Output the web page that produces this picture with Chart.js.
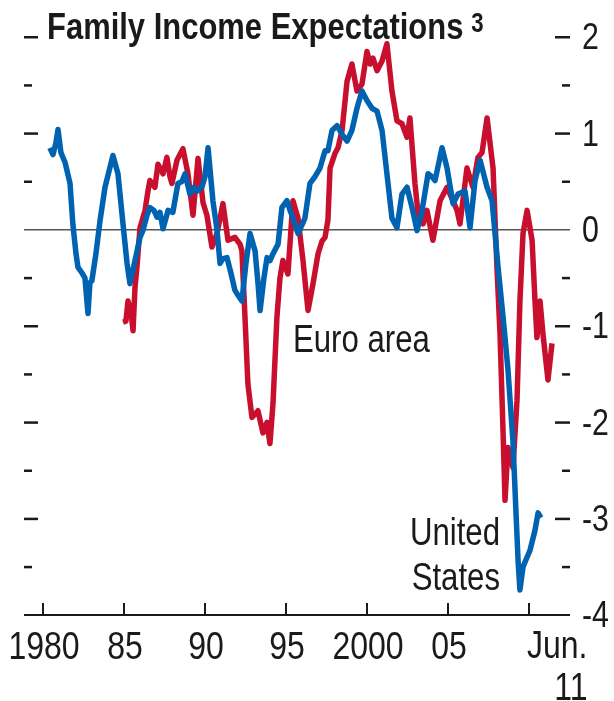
<!DOCTYPE html>
<html>
<head>
<meta charset="utf-8">
<script src="https://cdn.jsdelivr.net/npm/chart.js@4.4.1/dist/chart.umd.min.js"></script>
<style>
  html, body { margin: 0; padding: 0; background: #fff; }
  canvas { display: block; }
</style>
</head>
<body>
<canvas id="myChart" width="614" height="701"></canvas>
<script>
// Family income expectations, standardized index
const usYears = [
  1980.43, 1980.62, 1980.80, 1980.93, 1981.11, 1981.36, 1981.67, 1981.85, 1982.04, 1982.16,
  1982.41, 1982.59, 1982.78, 1982.90, 1983.02, 1983.27, 1983.52, 1983.83, 1984.14, 1984.32,
  1984.63, 1984.94, 1985.19, 1985.37, 1985.68, 1985.99, 1986.17, 1986.42, 1986.60, 1986.85,
  1987.04, 1987.22, 1987.41, 1987.72, 1988.02, 1988.33, 1988.58, 1988.77, 1989.07, 1989.32,
  1989.51, 1989.81, 1990.00, 1990.19, 1990.49, 1990.74, 1990.93, 1991.11, 1991.36, 1991.60,
  1991.85, 1992.04, 1992.28, 1992.53, 1992.78, 1993.09, 1993.27, 1993.40, 1993.64, 1993.83,
  1994.01, 1994.20, 1994.51, 1994.75, 1995.06, 1995.25, 1995.43, 1995.74, 1995.99, 1996.17,
  1996.48, 1996.79, 1997.10, 1997.41, 1997.59, 1997.84, 1998.15, 1998.46, 1998.77, 1999.07,
  1999.38, 1999.69, 2000.00, 2000.31, 2000.62, 2000.93, 2001.23, 2001.54, 2001.85, 2002.16,
  2002.47, 2002.78, 2003.09, 2003.40, 2003.77, 2004.01, 2004.20, 2004.63, 2004.94, 2005.31,
  2005.62, 2006.05, 2006.36, 2006.67, 2006.98, 2007.41, 2007.72, 2008.09, 2008.40, 2008.70,
  2009.01, 2009.20, 2009.33, 2009.44, 2009.63, 2009.88, 2010.06, 2010.37, 2010.56, 2010.74
];
const usValues = [
  0.85, 0.78, 0.90, 1.04, 0.80, 0.70, 0.48, 0.05, -0.25, -0.39,
  -0.45, -0.50, -0.87, -0.55, -0.53, -0.25, 0.09, 0.44, 0.65, 0.77,
  0.58, 0.06, -0.35, -0.56, -0.32, -0.08, -0.01, 0.15, 0.23, 0.20,
  0.13, 0.18, 0.01, 0.20, 0.18, 0.48, 0.50, 0.58, 0.37, 0.44,
  0.40, 0.44, 0.55, 0.85, 0.30, 0.00, -0.35, -0.30, -0.29, -0.45,
  -0.63, -0.68, -0.74, -0.35, -0.04, -0.22, -0.55, -0.84, -0.50, -0.29,
  -0.32, -0.25, -0.15, 0.23, 0.30, 0.20, 0.12, -0.04, 0.05, 0.12,
  0.48, 0.55, 0.64, 0.82, 0.82, 1.03, 1.08, 0.99, 0.92, 1.03,
  1.26, 1.44, 1.34, 1.26, 1.23, 1.03, 0.58, 0.12, 0.02, 0.37,
  0.44, 0.23, -0.01, 0.20, 0.58, 0.55, 0.51, 0.85, 0.64, 0.27,
  0.37, 0.40, 0.02, 0.51, 0.72, 0.44, 0.30, -0.39, -0.91, -1.45,
  -2.20, -2.95, -3.45, -3.74, -3.50, -3.40, -3.33, -3.12, -2.94, -2.99
];

const euroYears = [
  1984.94, 1985.12, 1985.25, 1985.43, 1985.56, 1985.68, 1985.80, 1985.99, 1986.30, 1986.48,
  1986.60, 1986.91, 1987.10, 1987.41, 1987.65, 1987.84, 1987.96, 1988.27, 1988.64, 1988.95,
  1989.26, 1989.57, 1989.88, 1990.12, 1990.43, 1990.74, 1991.11, 1991.42, 1991.85, 1992.16,
  1992.28, 1992.47, 1992.65, 1992.90, 1993.27, 1993.58, 1993.83, 1994.01, 1994.20, 1994.44,
  1994.63, 1994.81, 1995.12, 1995.43, 1995.74, 1996.05, 1996.36, 1996.67, 1996.98, 1997.22,
  1997.41, 1997.59, 1997.72, 1998.02, 1998.21, 1998.46, 1998.77, 1999.07, 1999.38, 1999.69,
  2000.00, 2000.19, 2000.37, 2000.62, 2000.93, 2001.23, 2001.54, 2001.85, 2002.16, 2002.47,
  2002.65, 2002.96, 2003.15, 2003.46, 2003.70, 2004.07, 2004.51, 2004.94, 2005.31, 2005.56,
  2005.74, 2006.17, 2006.54, 2006.85, 2007.10, 2007.41, 2007.78, 2008.02, 2008.21, 2008.40,
  2008.52, 2008.70, 2009.01, 2009.26, 2009.44, 2009.63, 2009.88, 2010.19, 2010.37, 2010.49,
  2010.68, 2010.86, 2011.17, 2011.42
];
const euroValues = [
  -0.96, -0.95, -0.74, -0.85, -1.05, -0.60, -0.39, 0.02, 0.20, 0.40,
  0.51, 0.44, 0.68, 0.58, 0.75, 0.55, 0.48, 0.72, 0.84, 0.58,
  0.15, 0.74, 0.28, 0.15, -0.18, -0.04, 0.27, -0.11, -0.08, -0.15,
  -0.22, -0.91, -1.60, -1.95, -1.88, -2.11, -2.00, -2.22, -1.80, -0.91,
  -0.50, -0.32, -0.46, 0.30, 0.12, -0.32, -0.84, -0.56, -0.25, -0.12,
  -0.08, 0.10, 0.64, 0.79, 0.85, 1.03, 1.54, 1.72, 1.44, 1.51,
  1.85, 1.72, 1.78, 1.65, 1.75, 1.93, 1.44, 1.13, 1.10, 0.96,
  1.16, 0.48, 0.17, 0.06, 0.20, -0.11, 0.30, 0.44, 0.30, 0.20,
  0.06, 0.64, 0.44, 0.75, 0.80, 1.16, 0.64, -0.39, -1.08, -2.11,
  -2.81, -2.26, -2.47, -1.77, -0.74, -0.04, 0.20, -0.11, -0.74, -1.12,
  -0.74, -1.08, -1.56, -1.18
];

const xTickYears = [1980, 1985, 1990, 1995, 2000, 2005, 2010];
const xTickLabels = ['1980', '85', '90', '95', '2000', '05', ['Jun.', '11']];
const yTicks = [2, 1, 0, -1, -2, -3, -4];
const yMinorTicks = [1.5, 0.5, -0.5, -1.5, -2.5, -3.5];

const RED = '#c8102e';
const BLUE = '#0063b1';
const INK = '#1a1a1a';
const SANS = '"Liberation Sans", Arial, sans-serif';
const SQUEEZE = 0.82; // condensed look, like Helvetica Condensed

function pairs(xs, ys) {
  return xs.map((x, i) => ({ x: x, y: ys[i] }));
}

// text squeezed horizontally
function text(ctx, str, x, y, align, sx) {
  ctx.save();
  ctx.translate(x, y);
  ctx.scale(sx, 1);
  ctx.textAlign = align;
  ctx.fillText(str, 0, 0);
  ctx.restore();
}

// zero line goes under the series
const zeroLine = {
  id: 'zeroLine',
  beforeDatasetsDraw(chart) {
    const { ctx, chartArea, scales } = chart;
    const y0 = scales.y.getPixelForValue(0);
    ctx.save();
    ctx.strokeStyle = '#555';
    ctx.lineWidth = 1.5;
    ctx.beginPath();
    ctx.moveTo(chartArea.left, y0);
    ctx.lineTo(chartArea.right, y0);
    ctx.stroke();
    ctx.restore();
  }
};

// axes, ticks, labels and annotations in the house style
const frame = {
  id: 'frame',
  afterDatasetsDraw(chart) {
    const { ctx, chartArea, scales } = chart;
    const L = chartArea.left, R = chartArea.right, B = chartArea.bottom;
    ctx.save();
    ctx.fillStyle = INK;
    ctx.strokeStyle = INK;

    // bottom axis
    ctx.lineWidth = 2;
    ctx.beginPath();
    ctx.moveTo(L, B);
    ctx.lineTo(R, B);
    ctx.stroke();

    ctx.font = '39px ' + SANS;
    ctx.textBaseline = 'alphabetic';
    xTickYears.forEach((yr, i) => {
      const x = Math.round(scales.x.getPixelForValue(yr));
      ctx.beginPath();
      ctx.moveTo(x, B - 12);
      ctx.lineTo(x, B);
      ctx.stroke();
      const lab = xTickLabels[i];
      if (Array.isArray(lab)) {
        text(ctx, lab[0], x - 2, B + 43, 'left', SQUEEZE);
        const w0 = ctx.measureText(lab[0]).width * SQUEEZE;
        text(ctx, lab[1], x - 2 + w0, B + 85, 'right', SQUEEZE);
      } else {
        text(ctx, lab, x + 1, B + 44, 'center', SQUEEZE);
      }
    });

    // y ticks on both sides, labels on the right
    ctx.textBaseline = 'middle';
    ctx.font = '37px ' + SANS;
    yTicks.forEach(v => {
      const y = scales.y.getPixelForValue(v);
      if (v !== 0 && v !== -4) {
        ctx.fillRect(L, y - 1, 14, 2.5);
        ctx.fillRect(R - 15, y - 1, 15, 2.5);
      }
      text(ctx, String(v), R + 12, y + 2, 'left', SQUEEZE);
    });
    yMinorTicks.forEach(v => {
      const y = scales.y.getPixelForValue(v);
      ctx.fillRect(L, y - 1, 8, 2.5);
      ctx.fillRect(R - 8, y - 1, 8, 2.5);
    });

    // title
    ctx.textBaseline = 'alphabetic';
    ctx.font = 'bold 36px ' + SANS;
    const title = 'Family Income Expectations';
    const tsx = 0.86;
    text(ctx, title, 47, 39, 'left', tsx);
    const tw = ctx.measureText(title).width * tsx;
    ctx.font = 'bold 27px ' + SANS;
    text(ctx, '3', 47 + tw + 8, 32, 'left', SQUEEZE);

    // series labels
    ctx.font = '38px ' + SANS;
    text(ctx, 'Euro area', 293, 352, 'left', SQUEEZE);
    text(ctx, 'United', 500, 545, 'right', SQUEEZE);
    text(ctx, 'States', 500, 590, 'right', SQUEEZE);
    ctx.restore();
  }
};

const ctx = document.getElementById('myChart').getContext('2d');

const myChart = new Chart(ctx, {
  type: 'line',
  data: {
    datasets: [
      {
        label: 'United States',
        data: pairs(usYears, usValues),
        borderColor: BLUE,
        borderWidth: 5.5,
        order: 0
      },
      {
        label: 'Euro area',
        data: pairs(euroYears, euroValues),
        borderColor: RED,
        borderWidth: 5.5,
        order: 1
      }
    ]
  },
  options: {
    responsive: false,
    animation: false,
    layout: {
      padding: { left: 24, right: 44, top: 37, bottom: 86 }
    },
    elements: {
      point: { radius: 0 },
      line: { tension: 0, borderJoinStyle: 'round', borderCapStyle: 'butt' }
    },
    scales: {
      x: { type: 'linear', min: 1978.83, max: 2012.53, display: false },
      y: { min: -4, max: 2, display: false }
    },
    plugins: {
      legend: { display: false },
      tooltip: { enabled: false }
    }
  },
  plugins: [zeroLine, frame]
});
</script>
</body>
</html>
